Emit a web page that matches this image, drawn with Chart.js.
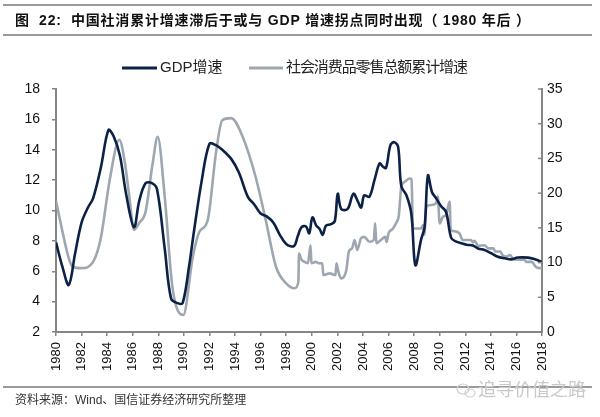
<!DOCTYPE html>
<html><head><meta charset="utf-8">
<script src="https://cdn.jsdelivr.net/npm/chart.js@4.4.1/dist/chart.umd.min.js"></script>
<style>html,body{margin:0;padding:0;background:#fff}canvas{display:block}</style>
</head><body>
<canvas id="c" width="600" height="417"></canvas>
<script>
// ---------- data ----------
const gdpYears = [
  1980,1980.5,1981,1981.5,1982,1982.5,1982.9,1983.5,1984.1,1984.5,
  1985,1985.5,1986.1,1986.5,1987,1987.5,1987.9,1988.5,1989,1989.5,
  1989.9,1990.4,1990.8,1991.4,1992,1992.5,1993,1993.7,1994.3,1995,
  1995.5,1996,1996.5,1997,1997.5,1998,1998.6,1998.9,1999.2,1999.55,
  1999.8,2000.05,2000.35,2000.6,2000.86,2001.1,2001.5,2001.8,2002.03,2002.3,
  2002.8,2003.25,2003.6,2003.86,2004.1,2004.5,2004.9,2005.3,2005.55,2005.8,
  2006.15,2006.45,2006.75,2007,2007.4,2007.78,2008.1,2008.55,2008.82,2009.08,
  2009.4,2009.73,2010.1,2010.5,2010.9,2011.3,2011.7,2012.1,2012.6,2013,
  2013.5,2014,2014.55,2015.1,2015.6,2016.1,2016.9,2017.4,2018
];
const gdpValues = [
  7.9,6.3,5.1,7.2,9.2,10.2,10.8,12.8,15.3,14.9,
  13.6,11.0,8.9,10.6,11.8,11.8,11.4,7.5,4.2,3.9,
  3.9,6.3,8.7,12.0,14.4,14.3,14.0,13.4,12.5,10.9,
  10.4,9.8,9.6,9.2,8.4,7.8,7.65,8.3,8.9,8.95,
  8.5,9.55,9.0,8.8,8.4,9.0,9.1,9.3,11.1,10.1,
  10.1,11.1,10.6,10.2,11.0,10.9,12.0,13.1,12.9,12.8,
  14.3,14.5,14.2,11.6,11.0,9.8,6.4,8.1,8.9,12.3,
  11.2,10.8,10.3,9.9,8.2,7.95,7.85,7.75,7.7,7.5,
  7.4,7.2,6.95,6.85,6.78,6.9,6.9,6.8,6.6
];
const retailYears = [
  1980,1980.5,1981,1981.3,1982,1982.9,1983.5,1984.2,1984.95,1985.35,
  1985.7,1986.1,1986.5,1987,1987.56,1987.95,1988.5,1989.1,1989.95,1990.7,
  1991.2,1991.86,1992.5,1993,1993.7,1994.6,1995.6,1996.4,1997.2,1998,
  1998.65,1998.95,1999.0,1999.2,1999.45,1999.7,1999.9,1999.97,2000.3,2000.6,
  2000.82,2000.9,2001.4,2001.85,2001.93,2002.05,2002.3,2002.7,2002.9,2003.15,
  2003.35,2003.55,2003.85,2004.1,2004.5,2004.85,2004.95,2005.05,2005.4,2005.75,
  2005.85,2006.0,2006.35,2006.65,2006.8,2007.0,2007.25,2007.65,2007.8,2007.9,
  2008.0,2008.55,2008.7,2008.8,2008.95,2009.35,2009.7,2009.85,2010.0,2010.25,
  2010.5,2010.78,2010.86,2011.2,2011.55,2011.8,2012.45,2012.6,2012.73,2013.0,
  2013.5,2013.8,2014.2,2014.35,2014.75,2014.9,2015.2,2015.5,2015.7,2016.2,
  2016.6,2016.8,2017.2,2017.5,2017.8,2018.0
];
const retailValues = [
  18.9,14.5,10.6,9.4,9.2,10.1,13.5,21.9,27.7,24.8,
  20.0,14.7,15.7,17.3,24.3,28.1,19.5,6.5,2.45,10.85,
  14.4,16.1,25.7,30.5,30.8,28.1,22.4,16.1,9.4,7.0,
  6.3,7.2,11.3,10.4,10.1,9.9,12.5,9.9,10.1,9.9,
  9.9,8.2,8.45,8.2,9.9,8.9,7.7,8.9,11.6,12.05,
  13.25,11.8,13.5,13.7,13.0,13.25,15.65,12.8,13.25,13.7,
  12.96,14.2,14.9,15.9,16.7,20.9,21.6,22.1,22.0,15.2,
  14.9,14.9,15.4,14.0,18.05,18.3,18.5,19.5,15.65,16.6,
  16.85,18.8,14.7,14.5,14.2,13.25,13.25,12.9,13.15,12.4,
  12.5,12.05,12.05,11.6,11.6,11.1,10.85,11.1,10.6,10.4,
  10.4,10.1,10.1,9.4,9.2,9.2
];
const xTickYears = [1980,1982,1984,1986,1988,1990,1992,1994,1996,1998,2000,2002,2004,2006,2008,2010,2012,2014,2016,2018];
const leftTickValues = [2,4,6,8,10,12,14,16,18];
const rightTickValues = [0,5,10,15,20,25,30,35];
const seriesNames = ['GDP增速', '社会消费品零售总额累计增速'];
const titleText = '图  22:  中国社消累计增速滞后于或与 GDP 增速拐点同时出现（ 1980 年后 ）';
const sourceText = '资料来源：Wind、国信证券经济研究所整理';
const watermarkText = '追寻价值之路';

// ---------- styles ----------
const DARK = '#0c2146';
const GRAY = '#9ea7b0';
const AXIS = '#858585';
const FONT = "'Liberation Sans', Arial, 'Noto Sans CJK SC', sans-serif";
const CJK = "'Liberation Sans', 'Noto Sans CJK SC', sans-serif";

// draw text char by char so that it spans x0..x1 (extra spacing spread evenly)
function fitText(ctx, text, x0, x1, y, font, color) {
  ctx.save();
  ctx.font = font; ctx.fillStyle = color;
  ctx.textBaseline = 'middle'; ctx.textAlign = 'left';
  const chars = [...text];
  const widths = chars.map(c => ctx.measureText(c).width);
  const natural = widths.reduce((a, b) => a + b, 0);
  const extra = (x1 == null || chars.length < 2) ? 0 : (x1 - x0 - natural) / (chars.length - 1);
  let x = x0;
  chars.forEach((c, i) => { ctx.fillText(c, x, y); x += widths[i] + extra; });
  ctx.restore();
}

const decor = {
  id: 'decor',
  beforeDraw(chart) {
    const ctx = chart.ctx;
    ctx.save(); ctx.fillStyle = '#fff'; ctx.fillRect(0, 0, chart.width, chart.height); ctx.restore();
  },
  afterDraw(chart) {
    const ctx = chart.ctx;
    ctx.save();
    // rules
    ctx.strokeStyle = '#9a9a9a';
    ctx.lineWidth = 2;
    [5, 35, 387].forEach(y => { ctx.beginPath(); ctx.moveTo(3, y); ctx.lineTo(592, y); ctx.stroke(); });
    // title
    fitText(ctx, titleText, 15, 530, 21, "bold 14px " + CJK, '#111');
    // legend
    const ly = 68;
    ctx.fillStyle = DARK; ctx.fillRect(122, ly - 1.5, 35, 3);
    fitText(ctx, seriesNames[0], 160, null, ly, "15px " + CJK, '#222');
    ctx.fillStyle = GRAY; ctx.fillRect(249, ly - 1.5, 34, 3);
    fitText(ctx, seriesNames[1], 286, 468, ly, "15px " + CJK, '#222');
    // right axis inward ticks
    const ry = chart.scales.y2;
    ctx.strokeStyle = AXIS; ctx.lineWidth = 1.5;
    rightTickValues.forEach(v => {
      const y = ry.getPixelForValue(v);
      ctx.beginPath(); ctx.moveTo(ry.left - 4, y); ctx.lineTo(ry.left, y); ctx.stroke();
    });
    // footer
    fitText(ctx, sourceText, 15, null, 401, "12px " + CJK, '#333');
    // watermark
    ctx.strokeStyle = '#cfcfcf'; ctx.lineWidth = 1.2;
    ctx.beginPath(); ctx.ellipse(463, 389, 6, 5, 0, 0, Math.PI * 2); ctx.stroke();
    ctx.beginPath(); ctx.ellipse(470, 393, 5, 4, 0, 0, Math.PI * 2); ctx.stroke();
    fitText(ctx, watermarkText, 478, null, 391, "18px " + CJK, '#c9c9c9');
    ctx.restore();
  }
};

const toPts = (xs, ys) => xs.map((x, i) => ({ x, y: ys[i] }));

new Chart(document.getElementById('c'), {
  type: 'line',
  data: {
    datasets: [
      { label: seriesNames[1], data: toPts(retailYears, retailValues), yAxisID: 'y2',
        borderColor: GRAY, borderWidth: 2.6, pointRadius: 0, cubicInterpolationMode: 'monotone', order: 2 },
      { label: seriesNames[0], data: toPts(gdpYears, gdpValues), yAxisID: 'y',
        borderColor: DARK, borderWidth: 2.6, pointRadius: 0, tension: 0.35, order: 1 }
    ]
  },
  options: {
    responsive: false, animation: false, devicePixelRatio: 1,
    layout: { padding: { top: 89, left: 0, right: 0, bottom: 0 } },
    plugins: { legend: { display: false }, tooltip: { enabled: false }, title: { display: false } },
    scales: {
      x: {
        type: 'linear', min: 1980, max: 2018,
        afterBuildTicks: s => { s.ticks = xTickYears.map(v => ({ value: v })); },
        afterFit: s => { s.height = 85; },
        border: { color: AXIS, width: 2 },
        grid: { drawOnChartArea: false, drawTicks: true, tickLength: 4, color: AXIS, lineWidth: 1.5 },
        ticks: { autoSkip: false, minRotation: 90, maxRotation: 90, padding: 6,
          font: { family: FONT, size: 13 }, color: '#111', callback: v => String(v) }
      },
      y: {
        position: 'left', min: 2, max: 18,
        afterBuildTicks: s => { s.ticks = leftTickValues.map(v => ({ value: v })); },
        afterFit: s => { s.width = 56; },
        border: { color: AXIS, width: 2 },
        grid: { drawOnChartArea: false, drawTicks: true, tickLength: 4, color: AXIS, lineWidth: 1.5 },
        ticks: { padding: 12, font: { family: FONT, size: 14 }, color: '#111' }
      },
      y2: {
        position: 'right', min: 0, max: 35,
        afterBuildTicks: s => { s.ticks = rightTickValues.map(v => ({ value: v })); },
        afterFit: s => { s.width = 58; },
        border: { color: AXIS, width: 2 },
        grid: { drawOnChartArea: false, drawTicks: false },
        ticks: { padding: 5, font: { family: FONT, size: 14 }, color: '#111' }
      }
    }
  },
  plugins: [decor]
});
</script>
</body></html>
